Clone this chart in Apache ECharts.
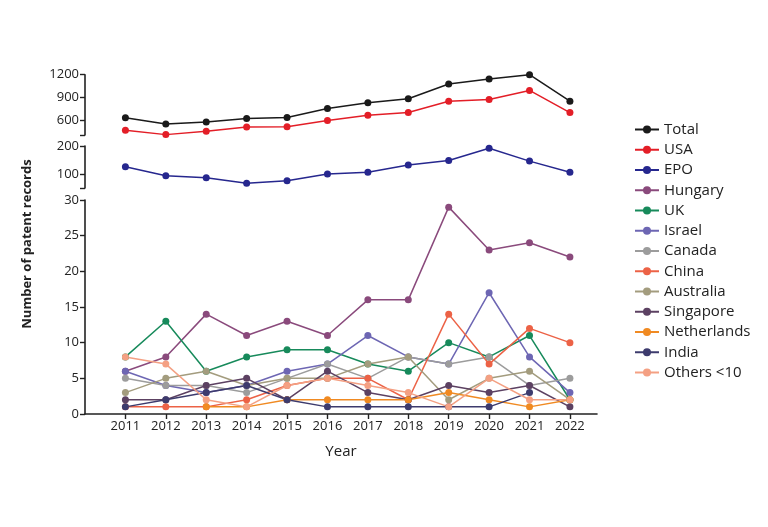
<!DOCTYPE html>
<html>
<head>
<meta charset="utf-8">
<script src="https://cdn.jsdelivr.net/npm/echarts@6/dist/echarts.min.js"></script>
<style>html,body{margin:0;padding:0;background:#fff}#c{width:768px;height:527px}</style>
</head>
<body>
<div id="c"></div>
<script>
const years = [2011,2012,2013,2014,2015,2016,2017,2018,2019,2020,2021,2022];

const total = [628, 545, 573, 618, 632, 752, 827, 880, 1076, 1143, 1200, 849];
const usa   = [463, 405, 449, 507, 511, 591, 662, 698, 849, 871, 991, 698];
const epo   = [126, 94, 87, 67, 76, 100, 106, 132, 148, 192, 146, 106];

const hungary     = [6, 8, 14, 11, 13, 11, 16, 16, 29, 23, 24, 22];
const uk          = [8, 13, 6, 8, 9, 9, 7, 6, 10, 8, 11, 2];
const israel      = [6, 4, 3, 4, 6, 7, 11, 8, 7, 17, 8, 3];
const canada      = [5, 4, 4, 3, 5, 7, 5, 8, 7, 8, 4, 5];
const china       = [1, 1, 1, 2, 4, 5, 5, 2, 14, 7, 12, 10];
const australia   = [3, 5, 6, 4, 5, 5, 7, 8, 2, 5, 6, 2];
const singapore   = [2, 2, 4, 5, 2, 6, 3, 2, 4, 3, 4, 1];
const netherlands = [null, null, 1, 1, 2, 2, 2, 2, 3, 2, 1, 2];
const india       = [1, 2, 3, 4, 2, 1, 1, 1, 1, 1, 3, null];
const others      = [8, 7, 2, 1, 4, 5, 4, 3, 1, 5, 2, 2];

const topTicks = [400, 600, 900, 1200];
const topLabels = [600, 900, 1200];
const midTicks = [50, 100, 200];
const midLabels = [100, 200];

const seriesDefs = [
  {name:'Total', data: total, color:'#1a1a1a', panel:0},
  {name:'USA', data: usa, color:'#e31e27', panel:0},
  {name:'EPO', data: epo, color:'#26278e', panel:1},
  {name:'Hungary', data: hungary, color:'#8a4a7c', panel:2},
  {name:'UK', data: uk, color:'#178a5b', panel:2},
  {name:'Israel', data: israel, color:'#6d66b3', panel:2},
  {name:'Canada', data: canada, color:'#9c9c9c', panel:2},
  {name:'China', data: china, color:'#ec6246', panel:2},
  {name:'Australia', data: australia, color:'#a39c7e', panel:2},
  {name:'Singapore', data: singapore, color:'#5c4162', panel:2},
  {name:'Netherlands', data: netherlands, color:'#f08a22', panel:2},
  {name:'India', data: india, color:'#3d3b6d', panel:2},
  {name:'Others <10', data: others, color:'#f4a083', panel:2}
];

const FONT = '"Open Sans", "Noto Sans", sans-serif';
const axisCol = '#222';
const xmin = 2010, xmax = 2022.67;

function xAxis(idx, show) {
  return {
    type:'value', gridIndex: idx, min: xmin, max: xmax, show: show,
    axisLine:{show:true, onZero:false, lineStyle:{color:axisCol, width:1.6}},
    axisTick:{show:true, length:5, lineStyle:{color:axisCol, width:1.4}, customValues: years},
    axisLabel:{show:true, color:'#222', fontSize:13, fontFamily:FONT, margin:6, customValues: years, formatter: v => String(v)},
    splitLine:{show:false},
    name: show ? 'Year' : '', nameLocation:'middle', nameGap:30,
    nameTextStyle:{color:'#222', fontSize:15, fontFamily:FONT}
  };
}
function yAxis(idx, min, max, ticks, labels, interval) {
  const a = {
    type:'value', gridIndex: idx, min: min, max: max,
    axisLine:{show:true, lineStyle:{color:axisCol, width:1.6}},
    axisTick:{show:true, length:5, lineStyle:{color:axisCol, width:1.4}},
    axisLabel:{show:true, color:'#222', fontSize:13, fontFamily:FONT, margin:6, formatter: v => String(v)},
    splitLine:{show:false}
  };
  if (interval) { a.interval = interval; }
  else { a.axisTick.customValues = ticks; a.axisLabel.customValues = labels; }
  return a;
}

const option = {
  animation:false,
  backgroundColor:'#fff',
  grid:[
    {left:85, right:171, top:74.7, height:60.3},
    {left:85, right:171, top:146, height:42},
    {left:85, right:171, top:200, height:214}
  ],
  xAxis:[xAxis(0,false), xAxis(1,false), xAxis(2,true)],
  yAxis:[
    yAxis(0, 400, 1200, topTicks, topLabels),
    yAxis(1, 50, 200, midTicks, midLabels),
    yAxis(2, 0, 30, null, null, 5)
  ],
  legend:{
    orient:'vertical', left:629, top:117,
    itemWidth:24, itemHeight:10, itemGap:5.25,
    textStyle:{color:'#222', fontSize:15, fontFamily:FONT},
    data: seriesDefs.map(s => s.name)
  },
  graphic:[{
    type:'text', x:27, y:244, rotation:Math.PI/2,
    style:{text:'Number of patent records', fill:'#222', font:'bold 13px "Open Sans", "Noto Sans", sans-serif', align:'center', verticalAlign:'middle'}
  }],
  series: seriesDefs.map(s => ({
    name:s.name, type:'line', xAxisIndex:s.panel, yAxisIndex:s.panel,
    data: years.map((y,i) => [y, s.data[i]]),
    symbol:'circle', symbolSize:7, connectNulls:false, clip:false,
    itemStyle:{color:s.color},
    lineStyle:{color:s.color, width:1.5}
  }))
};

const chart = echarts.init(document.getElementById('c'), null, {renderer:'canvas'});
chart.setOption(option);
</script>
</body>
</html>
